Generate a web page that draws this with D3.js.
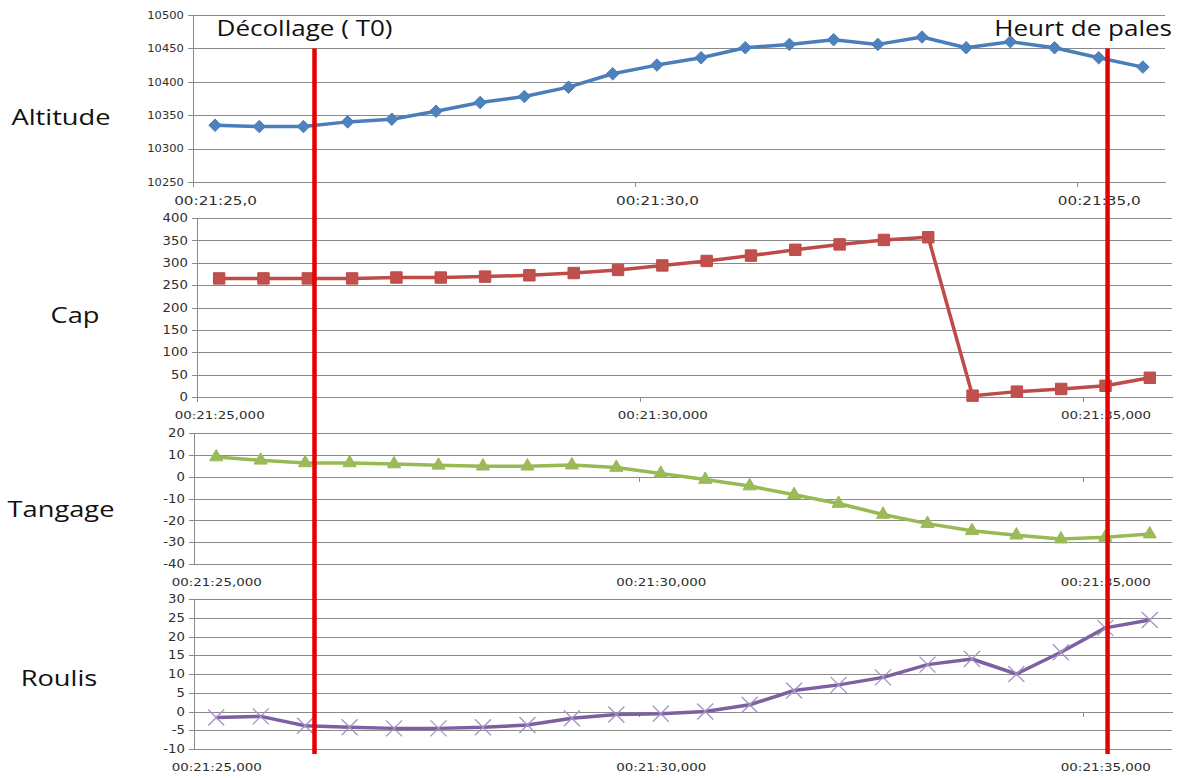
<!DOCTYPE html>
<html>
<head>
<meta charset="utf-8">
<script src="https://cdn.jsdelivr.net/npm/d3@7"></script>
<style>
  html, body { margin: 0; padding: 0; background: #ffffff; }
  svg { display: block; }
  .grid line { stroke: #8a8a8a; stroke-width: 1; shape-rendering: crispEdges; }
  .grid .domain { display: none; }
  .yaxis .domain, .yaxis line, .xticks .domain, .xticks line { stroke: #8a8a8a; stroke-width: 1; shape-rendering: crispEdges; }
  .tick text { font-family: "DejaVu Sans", sans-serif; fill: #2e2e2e; }
  .xlabels .domain, .xlabels line { display: none; }
  .name { font-family: "Open Sans", sans-serif; fill: #111; }
</style>
</head>
<body>
<svg id="chart" width="1186" height="778"></svg>
<script>
// Flight record samples, one every half second
const times = [
  "00:21:25,0", "00:21:25,5", "00:21:26,0", "00:21:26,5", "00:21:27,0", "00:21:27,5",
  "00:21:28,0", "00:21:28,5", "00:21:29,0", "00:21:29,5", "00:21:30,0", "00:21:30,5",
  "00:21:31,0", "00:21:31,5", "00:21:32,0", "00:21:32,5", "00:21:33,0", "00:21:33,5",
  "00:21:34,0", "00:21:34,5", "00:21:35,0", "00:21:35,5"
];
const altitude = [10335, 10333, 10333, 10340, 10344, 10356, 10369, 10378, 10392, 10412, 10425,
                  10436, 10451, 10456, 10463, 10456, 10467, 10451, 10460, 10451, 10436, 10422];
const cap      = [265, 265, 265, 265, 267, 267, 269, 272, 277, 284, 294,
                  304, 316, 329, 341, 351, 357, 3, 12, 18, 25, 43];
const tangage  = [9, 7.5, 6.3, 6.3, 5.8, 5.2, 4.8, 4.8, 5.3, 4.2, 1.5,
                  -1.3, -4.3, -8.3, -12.3, -17.3, -21.5, -24.8, -26.8, -28.6, -27.8, -26.3];
const roulis   = [-1.6, -1.3, -3.8, -4.2, -4.5, -4.5, -4.2, -3.6, -1.8, -0.8, -0.6,
                  0, 1.8, 5.6, 7.1, 9.1, 12.5, 14, 10, 15.8, 22.3, 24.4];

// Axis ticks
const altitudeTicks = [10250, 10300, 10350, 10400, 10450, 10500];
const capTicks      = [0, 50, 100, 150, 200, 250, 300, 350, 400];
const tangageTicks  = [-40, -30, -20, -10, 0, 10, 20];
const roulisTicks   = [-10, -5, 0, 5, 10, 15, 20, 25, 30];
const timeTickIndex = [0, 10, 20];
const timeLabelsShort = ["00:21:25,0", "00:21:30,0", "00:21:35,0"];
const timeLabelsLong  = ["00:21:25,000", "00:21:30,000", "00:21:35,000"];

// Events (position in sample units)
const eventNames = ["Décollage ( T0)", "Heurt de pales"];
const eventIndex = [2.25, 20.2];

const svg = d3.select("#chart");
const n = times.length;
const plain = d => String(d);   // plain hyphen-minus, no thousands separator

const panels = [
  { name: "Altitude", values: altitude, ticks: altitudeTicks, labels: timeLabelsShort,
    line: "#4A7EBB", fill: "#4F81BD", symbol: d3.symbolDiamond2, size: 100, stroke: false,
    x0: 193, x1: 1165, yTop: 15, yBot: 182, nameX: 61, nameY: 125,
    yFont: 10, yScaleX: 1.15, xFont: 12, xScaleX: 1.27 },
  { name: "Cap", values: cap, ticks: capTicks, labels: timeLabelsLong,
    line: "#BE4B48", fill: "#C0504D", symbol: d3.symbolSquare, size: 130, stroke: false,
    x0: 197, x1: 1172, yTop: 218, yBot: 397, nameX: 75, nameY: 323,
    yFont: 11.5, yScaleX: 1.15, xFont: 11, xScaleX: 1.22 },
  { name: "Tangage", values: tangage, ticks: tangageTicks, labels: timeLabelsLong,
    line: "#98B954", fill: "#9BBB59", symbol: d3.symbolTriangle, size: 75, stroke: false,
    x0: 194, x1: 1172, yTop: 433, yBot: 564, nameX: 61, nameY: 517,
    yFont: 11.5, yScaleX: 1.15, xFont: 11, xScaleX: 1.22 },
  { name: "Roulis", values: roulis, ticks: roulisTicks, labels: timeLabelsLong,
    line: "#7D60A0", fill: "#A592C6", symbol: d3.symbolTimes, size: 170, stroke: true,
    x0: 194, x1: 1172, yTop: 599, yBot: 749, nameX: 59, nameY: 686,
    yFont: 11.5, yScaleX: 1.15, xFont: 11, xScaleX: 1.22 }
];

panels.forEach(p => {
  const g = svg.append("g");
  const x = d3.scaleLinear().domain([0, n]).range([p.x0, p.x1]);
  const y = d3.scaleLinear().domain(d3.extent(p.ticks)).range([p.yBot, p.yTop]);
  const w = p.x1 - p.x0;
  p.x = x;

  // horizontal gridlines
  g.append("g").attr("class", "grid")
    .attr("transform", `translate(${p.x0},0)`)
    .call(d3.axisLeft(y).tickValues(p.ticks).tickSize(-w).tickFormat(""));

  // value axis
  const ya = g.append("g").attr("class", "yaxis")
    .attr("transform", `translate(${p.x0},0)`)
    .call(d3.axisLeft(y).tickValues(p.ticks).tickFormat(plain)
      .tickSizeInner(5).tickSizeOuter(0).tickPadding(3));
  ya.selectAll("text")
    .style("font-size", p.yFont + "px")
    .attr("transform", `scale(${p.yScaleX},1)`);

  // time axis crossing at zero (or at the bottom)
  const cross = Math.max(d3.min(p.ticks), 0);
  g.append("g").attr("class", "xticks")
    .attr("transform", `translate(0,${y(cross)})`)
    .call(d3.axisBottom(x).tickValues(timeTickIndex).tickSizeInner(5).tickSizeOuter(0).tickFormat(""));

  // time labels at the bottom, centred on the samples
  const xl = g.append("g").attr("class", "xlabels")
    .attr("transform", `translate(0,${p.yBot})`)
    .call(d3.axisBottom(x).tickValues(timeTickIndex.map(i => i + 0.5))
      .tickSize(0).tickPadding(14)
      .tickFormat((d, i) => p.labels[i]));
  xl.selectAll("text")
    .style("font-size", p.xFont + "px")
    .attr("transform", `scale(${p.xScaleX},1)`);

  // series line
  const line = d3.line().x((d, i) => x(i + 0.5)).y(d => y(d));
  g.append("path").datum(p.values)
    .attr("fill", "none").attr("stroke", p.line).attr("stroke-width", 3.5)
    .attr("stroke-linejoin", "round").attr("d", line);

  // markers
  const sym = d3.symbol().type(p.symbol).size(p.size);
  g.append("g").selectAll("path").data(p.values).join("path")
    .attr("transform", (d, i) => `translate(${x(i + 0.5)},${y(d)})`)
    .attr("d", sym)
    .attr("fill", p.stroke ? "none" : p.fill)
    .attr("stroke", p.stroke ? p.fill : p.line)
    .attr("stroke-width", p.stroke ? 1.3 : 1);

  // panel name
  svg.append("text").attr("class", "name")
    .attr("transform", `translate(${p.nameX},${p.nameY}) scale(1.24,1)`)
    .attr("text-anchor", "middle")
    .style("font-size", "22px")
    .text(p.name);
});

// event markers spanning all panels
const xe = panels[0].x;
const yTopEvent = d3.scaleLinear().domain(d3.extent(altitudeTicks)).range([panels[0].yBot, panels[0].yTop])(10450);
const yBottomEvent = panels[3].yBot + 5;
eventIndex.forEach((e, k) => {
  const xv = xe(e + 0.5);
  svg.append("line")
    .attr("x1", xv).attr("x2", xv)
    .attr("y1", yTopEvent).attr("y2", yBottomEvent)
    .attr("stroke", "#E60000").attr("stroke-width", 4.5);
  svg.append("text").attr("class", "name")
    .attr("transform", k === 0
      ? `translate(${xv - 98},36) scale(1.24,1)`
      : `translate(${1172},36) scale(1.24,1)`)
    .attr("text-anchor", k === 0 ? "start" : "end")
    .style("font-size", "21px")
    .text(eventNames[k]);
});
</script>
</body>
</html>
